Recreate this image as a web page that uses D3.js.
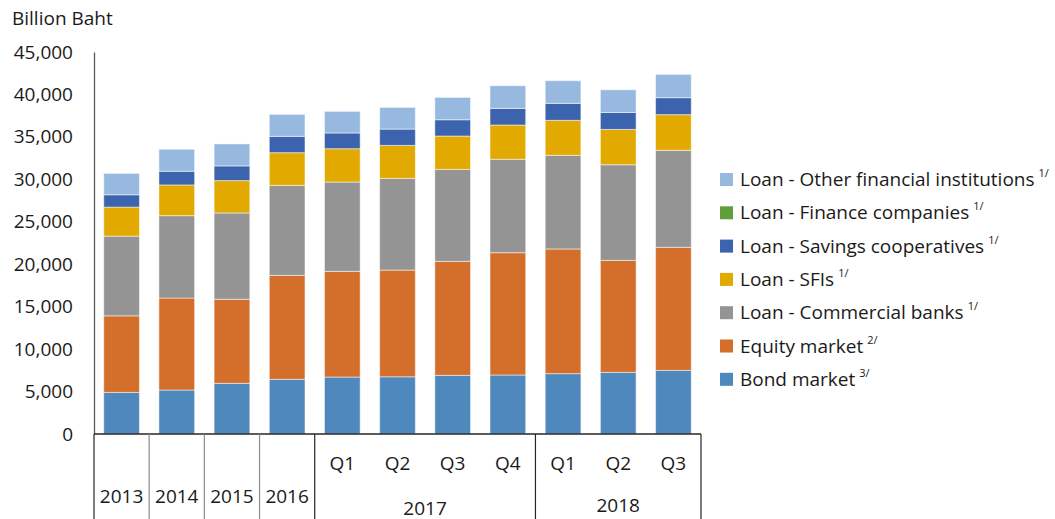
<!DOCTYPE html>
<html><head><meta charset="utf-8">
<script src="https://cdn.jsdelivr.net/npm/d3@7"></script>
<style>body{margin:0;background:#fff}svg{display:block}text{font-family:"Open Sans",sans-serif;fill:#1a1a1a}</style>
</head><body>
<svg id="c" width="1055" height="519"></svg>
<script>
const categories = ["2013","2014","2015","2016","2017Q1","2017Q2","2017Q3","2017Q4","2018Q1","2018Q2","2018Q3"];
const catLabels = ["2013","2014","2015","2016","Q1","Q2","Q3","Q4","Q1","Q2","Q3"];
const groupLabels = [{label:"2017", from:4, to:7}, {label:"2018", from:8, to:10}];
const bondMarket   = [4900, 5180, 5970, 6440, 6710, 6740, 6910, 6950, 7110, 7260, 7500];
const equityMarket = [9020, 10840, 9900, 12250, 12450, 12570, 13430, 14410, 14690, 13190, 14490];
const loanCommercialBanks = [9390, 9700, 10170, 10600, 10520, 10800, 10830, 11000, 11030, 11270, 11430];
const loanSFIs = [3420, 3620, 3810, 3850, 3930, 3890, 3930, 4040, 4120, 4160, 4200];
const loanSavingsCoops = [1450, 1610, 1730, 1920, 1850, 1920, 1920, 1960, 2000, 2000, 2000];
const loanFinanceCompanies = [0, 0, 0, 0, 0, 0, 0, 0, 0, 0, 0];
const loanOtherFI = [2520, 2590, 2590, 2590, 2550, 2550, 2630, 2670, 2670, 2670, 2740];
const yTicks = [0, 5000, 10000, 15000, 20000, 25000, 30000, 35000, 40000, 45000];

const series = [
  {key:"bond", name:"Bond market", sup:"3/", values:bondMarket, color:"#4f88bd"},
  {key:"equity", name:"Equity market", sup:"2/", values:equityMarket, color:"#d36f2b"},
  {key:"cb", name:"Loan - Commercial banks", sup:"1/", values:loanCommercialBanks, color:"#949494"},
  {key:"sfi", name:"Loan - SFIs", sup:"1/", values:loanSFIs, color:"#e2aa00"},
  {key:"sav", name:"Loan - Savings cooperatives", sup:"1/", values:loanSavingsCoops, color:"#3c63ad"},
  {key:"fin", name:"Loan - Finance companies", sup:"1/", values:loanFinanceCompanies, color:"#5f9e3a"},
  {key:"oth", name:"Loan - Other financial institutions", sup:"1/", values:loanOtherFI, color:"#97b9e0"}
];

const table = categories.map((c,i)=>{const o={cat:c}; series.forEach(s=>o[s.key]=s.values[i]); return o;});
const stack = d3.stack().keys(series.map(s=>s.key))(table);

const FS = 19;
const svg = d3.select("#c");
const x0 = 94, x1 = 701, yBase = 434, yTop = 52;
const x = d3.scaleBand().domain(categories).range([x0,x1]).paddingInner(0.353).paddingOuter(0.1765);
const y = d3.scaleLinear().domain([0,45000]).range([yBase,yTop]);

// bars
svg.append("g").selectAll("g").data(stack).join("g")
  .attr("fill",(d,i)=>series[i].color)
  .selectAll("rect").data(d=>d).join("rect")
  .attr("x",(d,i)=>x(categories[i]))
  .attr("width",x.bandwidth())
  .attr("y",d=>y(d[1]))
  .attr("height",d=>Math.max(0,y(d[0])-y(d[1])))
  .attr("stroke","#ffffff").attr("stroke-opacity",0.5).attr("stroke-width",1);

// y axis
const yAxis = d3.axisLeft(y).tickValues(yTicks).tickSize(0).tickPadding(21).tickFormat(d3.format(","));
const gy = svg.append("g").attr("transform",`translate(${x0},0)`).call(yAxis);
gy.select(".domain").attr("stroke","#595959").attr("stroke-width",1.3);
gy.selectAll("text").attr("font-size",FS).style("font-family","'Open Sans',sans-serif").attr("fill","#1a1a1a");

svg.append("text").attr("x",12).attr("y",24.5).attr("font-size",FS).text("Billion Baht");

// x axis: baseline and separators
const step = x.step();
const gx = svg.append("g");
gx.append("line").attr("x1",x0).attr("x2",x1).attr("y1",yBase).attr("y2",yBase).attr("stroke","#262626").attr("stroke-width",1.3);
const seps = [0,1,2,3,4,8,11];
gx.selectAll("line.sep").data(seps).join("line").attr("class","sep")
  .attr("x1",d=>x0+d*step).attr("x2",d=>x0+d*step)
  .attr("y1",yBase).attr("y2",519)
  .attr("stroke",d=>(d>=1&&d<=3)?"#8c8c8c":"#262626").attr("stroke-width",1.2);

// category labels
categories.forEach((c,i)=>{
  const cx = x(c)+x.bandwidth()/2;
  const isQ = i>=4;
  svg.append("text").attr("x",cx).attr("y",isQ?469.5:502.5).attr("text-anchor","middle")
    .attr("font-size",FS).text(catLabels[i]);
});
groupLabels.forEach((g,gi)=>{
  const cx = (x(categories[g.from]) + x(categories[g.to]) + x.bandwidth())/2;
  svg.append("text").attr("x",cx).attr("y",gi===0?514.5:511.5).attr("text-anchor","middle").attr("font-size",FS).text(g.label);
});

// legend
const legendOrder = series.slice().reverse();
const lg = svg.append("g");
legendOrder.forEach((s,i)=>{
  const cy = 179.5 + i*33.3;
  lg.append("rect").attr("x",720).attr("y",cy-6.5).attr("width",13).attr("height",13).attr("fill",s.color);
  const t = lg.append("text").attr("x",740).attr("y",cy+6.5).attr("font-size",FS);
  t.append("tspan").text(s.name);
  t.append("tspan").attr("dx",4).attr("dy",-9).attr("font-size",11).text(s.sup);
});
</script>
</body></html>
